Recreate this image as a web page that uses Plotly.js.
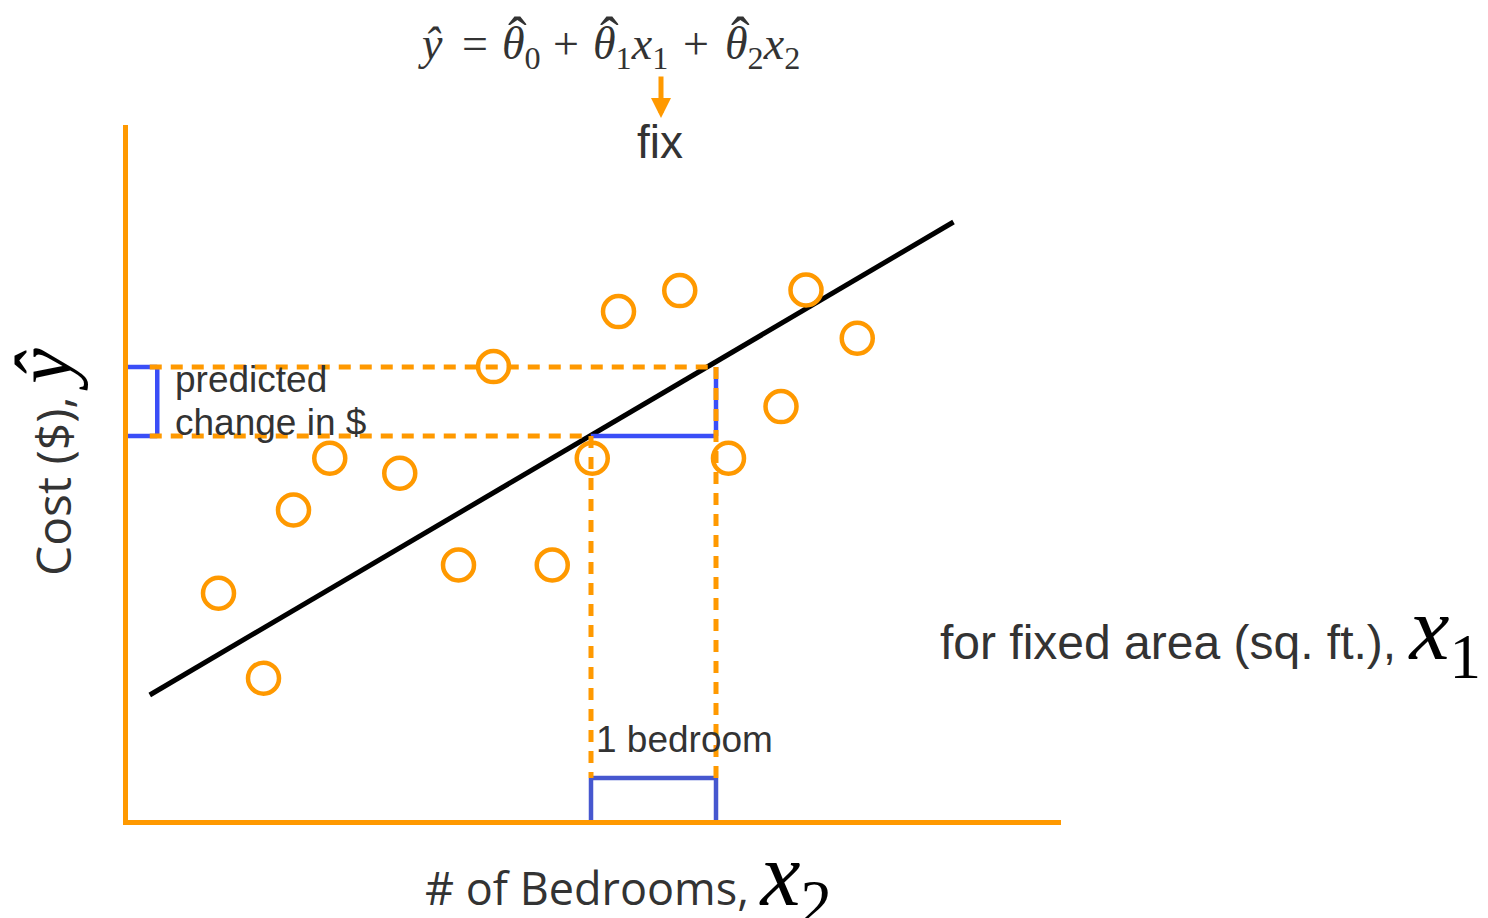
<!DOCTYPE html>
<html>
<head>
<meta charset="utf-8">
<script src="https://cdn.plot.ly/plotly-3.0.1.min.js"></script>
<style>
  html, body { margin: 0; padding: 0; background: #ffffff; }
  #chart { width: 1488px; height: 918px; }
</style>
</head>
<body>
<div id="chart"></div>
<script>
// Observed houses: number of bedrooms (x2) and cost in $k, at a fixed living area.
const bedrooms = [1.02, 1.38, 1.62, 1.91, 2.47, 2.94, 3.22, 3.69, 4.01, 4.22, 4.71, 5.10, 5.52, 5.72, 6.13];
const cost     = [114.4, 71.9, 156.0, 181.9, 174.4, 128.5, 227.7, 128.5, 181.9, 255.2, 265.7, 181.9, 207.7, 266.0, 241.9];

// Fitted regression line (end points).
const fitBedrooms = [0.47, 6.90];
const fitCost     = [63.5, 300.0];

// One-bedroom step used to show the predicted change in cost.
const stepBedrooms = [4, 5];
const stepCost     = [193.0, 227.5];
const bracketCost  = 22;        // height of the "1 bedroom" bracket
const axisBedrooms = 0.28;      // where the cost axis sits
const tickBedrooms = 0.53;      // inner edge of the cost bracket
const dashStart    = 0.47;      // where the guide lines begin

// Axis ranges
const xRange = [0.296, 7.76];
const yRange = [1, 348.5];

const ORANGE = '#ff9900';
const BLUE = '#3a4ef7';
const BLUE_DARK = '#4657cf';
const INK = '#333333';

// Page geometry helpers for text placed around the plot
const M = {l: 128, r: 427, t: 125, b: 98};
const PW = 1488 - M.l - M.r, PH = 918 - M.t - M.b;
const fx = px => (px - M.l) / PW;
const fy = py => (918 - M.b - py) / PH;

const traces = [
  {
    x: fitBedrooms, y: fitCost, type: 'scatter', mode: 'lines',
    line: {color: '#000000', width: 5}, hoverinfo: 'skip'
  },
  {
    x: bedrooms, y: cost, type: 'scatter', mode: 'markers',
    marker: {symbol: 'circle-open', size: 31, color: ORANGE,
             line: {color: ORANGE, width: 4.5}},
    hoverinfo: 'skip'
  }
];

function seg(x0, y0, x1, y1, color, dash) {
  return {type: 'line', xref: 'x', yref: 'y', x0, y0, x1, y1,
          line: {color, width: dash ? 5 : 4.5, dash: dash || 'solid'}, layer: 'above'};
}

const lowX = stepBedrooms[0], highX = stepBedrooms[1];
const lowC = stepCost[0], highC = stepCost[1];
const DASH = '12px,9px';

const shapes = [
  // bracket on the cost axis
  seg(axisBedrooms, highC, tickBedrooms, highC, BLUE),
  seg(tickBedrooms, highC, tickBedrooms, lowC, BLUE),
  seg(axisBedrooms, lowC, tickBedrooms, lowC, BLUE),
  // step along the fitted line
  seg(lowX, lowC, highX, lowC, BLUE),
  seg(highX, lowC, highX, highC, BLUE),
  // bracket on the bedrooms axis
  seg(lowX, 0, lowX, bracketCost, BLUE_DARK),
  seg(lowX, bracketCost, highX, bracketCost, BLUE_DARK),
  seg(highX, bracketCost, highX, 0, BLUE_DARK),
  // dashed guides
  seg(dashStart, highC, highX, highC, ORANGE, DASH),
  seg(dashStart, lowC, lowX, lowC, ORANGE, DASH),
  seg(lowX, lowC, lowX, bracketCost, ORANGE, DASH),
  seg(highX, highC, highX, bracketCost, ORANGE, DASH)
];

const SERIF = 'Liberation Serif, DejaVu Serif, serif';
const SANS = 'Liberation Sans, Arial, sans-serif';
const HUMANIST = 'Open Sans, Noto Sans, sans-serif';
const bigVar = (v, sub, size) =>
  `<span style="font-family:${SERIF};font-size:${size || 90}px;color:#000">` +
  `<i>${v}</i>${sub ? '<sub>' + sub + '</sub>' : ''}</span>`;

function label(text, px, py, opts) {
  return Object.assign({
    text, xref: 'paper', yref: 'paper', x: fx(px), y: fy(py),
    xanchor: 'left', yanchor: 'middle', showarrow: false,
    font: {family: SANS, size: 37, color: INK}
  }, opts || {});
}

// Model equation, set piece by piece so each estimate can carry its hat.
const EQ_FONT = {family: SERIF, size: 46, color: INK};
const EQ_TOP = 16;
const eqPieces = [
  ['<i>ŷ</i>', 416],
  ['=', 460],
  ['<i>θ</i><sub>0</sub>', 500],
  ['+', 551],
  ['<i>θ</i><sub>1</sub><i>x</i><sub>1</sub>', 591],
  ['+', 681],
  ['<i>θ</i><sub>2</sub><i>x</i><sub>2</sub>', 723]
];
const hatCenters = [517, 609, 740];

const annotations = [];
eqPieces.forEach(([t, px]) =>
  annotations.push(label(t, px, EQ_TOP, {yanchor: 'top', font: EQ_FONT})));
hatCenters.forEach(px =>
  annotations.push(label('ˆ', px, EQ_TOP - 12, {xanchor: 'center', yanchor: 'top',
                                      font: {family: SERIF, size: 56, color: INK}})));

annotations.push(
  // arrow pointing at the fixed term
  {
    text: '', xref: 'paper', yref: 'paper', x: fx(661), y: fy(118),
    showarrow: true, ax: 0, ay: -43, arrowhead: 2, arrowsize: 0.8,
    arrowwidth: 5, arrowcolor: ORANGE, standoff: 0, startstandoff: 0
  },
  label('fix', 660, 142, {xanchor: 'center', font: {family: SANS, size: 46, color: INK}}),
  label('predicted', 173, 379),
  label('change in $', 173, 422),
  label('1 bedroom', 594, 739),
  label('for fixed area (sq. ft.), ' + bigVar('x', '1'), 938, 635,
        {font: {family: SANS, size: 48, color: INK}}),
  // axis titles
  label('# of Bedrooms, ' + bigVar('x', '2'), 423, 881,
        {font: {family: HUMANIST, size: 45, color: INK}}),
  label('Cost ($), ' + bigVar('ŷ', '', 80), 44, 462,
        {xanchor: 'center', textangle: -90, font: {family: HUMANIST, size: 48, color: INK}})
);

const axisCommon = {
  showgrid: false, zeroline: false, showticklabels: false, ticks: '',
  showline: true, linecolor: ORANGE, linewidth: 5, fixedrange: true
};

const layout = {
  width: 1488, height: 918,
  margin: M,
  paper_bgcolor: '#ffffff', plot_bgcolor: '#ffffff',
  showlegend: false,
  xaxis: Object.assign({range: xRange}, axisCommon),
  yaxis: Object.assign({range: yRange}, axisCommon),
  shapes, annotations
};

Plotly.newPlot('chart', traces, layout, {displayModeBar: false, staticPlot: true});
</script>
</body>
</html>
